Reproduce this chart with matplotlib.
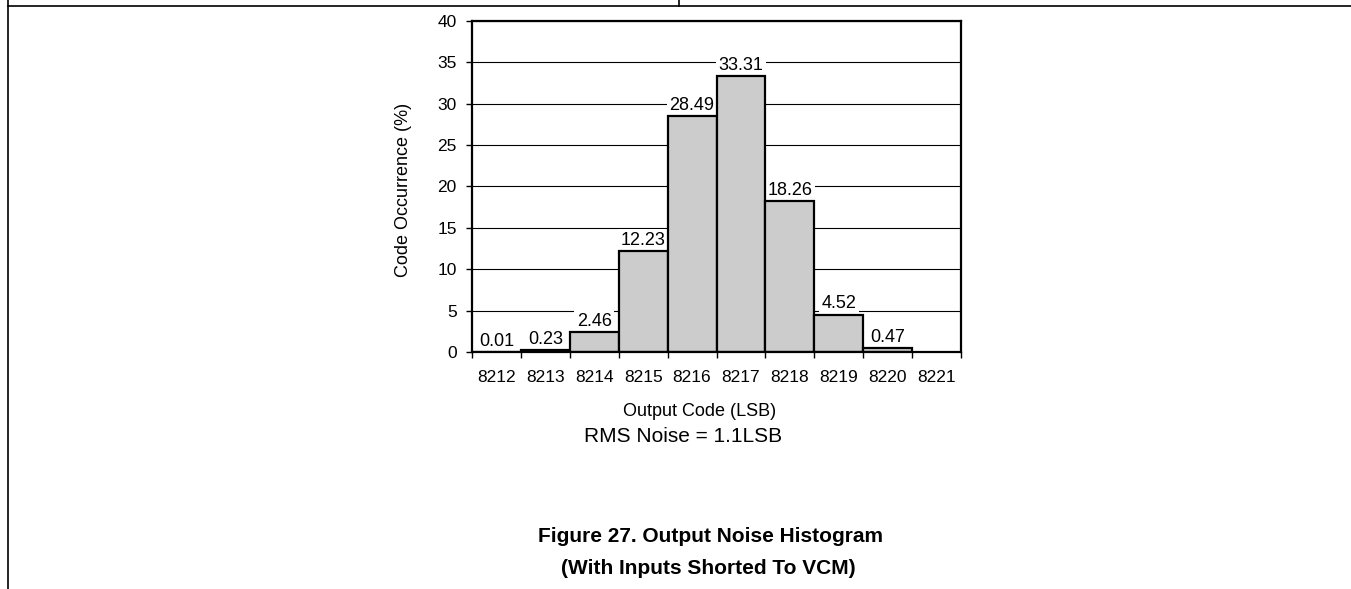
import matplotlib
matplotlib.use("Agg")
import matplotlib.pyplot as plt
from matplotlib.lines import Line2D
import numpy as np

plt.rcParams['font.family'] = ['Liberation Sans', 'DejaVu Sans']

# output codes on the x axis (8221 has no hits)
codes = ["8212", "8213", "8214", "8215", "8216", "8217", "8218", "8219", "8220", "8221"]
# code occurrence in percent, one per code up to 8220
occurrence = [0.01, 0.23, 2.46, 12.23, 28.49, 33.31, 18.26, 4.52, 0.47]
y_ticks = [0, 5, 10, 15, 20, 25, 30, 35, 40]

W, H = 1351, 589
fig = plt.figure(figsize=(W / 100, H / 100), dpi=100)

# axes box in pixels: left 472, right 961, top 20.7, bottom 352
ax = fig.add_axes([472 / W, 1 - 352 / H, 489 / W, 331.3 / H])

x = np.arange(len(occurrence))
ax.bar(x, occurrence, width=1.0, color="#cccccc", edgecolor="black", linewidth=1.6, zorder=2)

# value labels sit between the grid and the bars so they only break the grid lines
for xi, v in zip(x, occurrence):
    ax.annotate(f"{v:.2f}", (xi, v), xytext=(0, 1.5), textcoords="offset points",
                ha="center", va="bottom", fontsize=13, zorder=1.5,
                bbox=dict(facecolor="white", edgecolor="none", pad=2))

ax.set_xlim(-0.5, len(codes) - 0.5)
ax.set_ylim(0, 40)
ax.set_yticks(y_ticks)
ax.set_yticklabels([str(t) for t in y_ticks], fontsize=12.5)
ax.tick_params(axis="y", direction="out", length=4, width=1, pad=7)

# labels centred on the bins, tick marks on the bin edges
ax.set_xticks(np.arange(len(codes)))
ax.set_xticklabels(codes, fontsize=12.5)
ax.set_xticks(np.arange(len(codes) + 1) - 0.5, minor=True)
ax.tick_params(axis="x", which="major", length=0, pad=13)
ax.tick_params(axis="x", which="minor", direction="out", length=4, width=1)

ax.yaxis.grid(True, color="black", linewidth=0.8, zorder=0)
ax.set_axisbelow(True)
for s in ax.spines.values():
    s.set_linewidth(1.6)
    s.set_zorder(3)

fig.text(404 / W, 1 - 190 / H, "Code Occurrence (%)", rotation=90,
         ha="center", va="center", fontsize=13)
fig.text(700 / W, 1 - 411 / H, "Output Code (LSB)", ha="center", va="center", fontsize=13)
fig.text(683 / W, 1 - 437 / H, "RMS Noise = 1.1LSB", ha="center", va="center", fontsize=15)
fig.text(710 / W, 1 - 537 / H, "Figure 27. Output Noise Histogram",
         ha="center", va="center", fontsize=15, fontweight="bold")
fig.text(708 / W, 1 - 568 / H, "(With Inputs Shorted To VCM)",
         ha="center", va="center", fontsize=15, fontweight="bold")

# page table borders
fig.add_artist(Line2D([8.3 / W, 1], [1 - 6.3 / H, 1 - 6.3 / H], color="black", linewidth=1.2))
fig.add_artist(Line2D([8.3 / W, 8.3 / W], [0, 1], color="black", linewidth=1.2))
fig.add_artist(Line2D([679 / W, 679 / W], [1 - 6.3 / H, 1], color="black", linewidth=1.2))

fig.savefig("out.png", dpi=100)
